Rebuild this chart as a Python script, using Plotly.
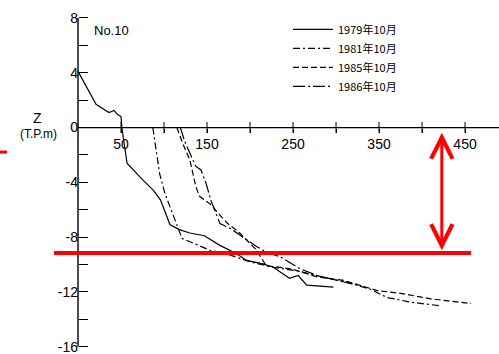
import plotly.graph_objects as go

# ---- data (distance from baseline [m], elevation Z [T.P.m]) ----
series_names = ["1979年10月", "1981年10月", "1985年10月", "1986年10月"]

x1979 = [0, 21, 36, 42, 46, 50, 51, 53, 57, 75, 88, 96, 107, 118, 130, 147, 165, 184, 196, 215, 227, 246, 256, 266, 297]
z1979 = [4.1, 1.7, 1.1, 1.25, 0.95, 0.8, 0.0, -1.0, -2.6, -3.8, -4.6, -5.3, -7.1, -7.45, -7.7, -7.9, -8.6, -9.2, -9.7, -9.95, -10.2, -11.0, -10.8, -11.5, -11.65]

x1981 = [87, 91, 95, 101, 108, 116, 121, 135, 153, 172, 200, 227, 258, 290, 313, 340, 359, 387, 420]
z1981 = [0.0, -1.9, -3.4, -4.8, -6.0, -7.24, -8.1, -8.46, -8.95, -9.2, -9.8, -10.2, -10.5, -11.0, -11.3, -11.8, -12.4, -12.75, -13.0]

x1985 = [115, 122, 130, 137, 141, 155, 165, 174, 188, 207, 219, 235, 250, 278, 309, 348, 375, 410, 457]
z1985 = [0.0, -1.2, -2.35, -4.3, -5.0, -5.65, -6.4, -7.0, -7.7, -8.9, -10.1, -10.2, -10.35, -10.9, -11.16, -11.9, -12.1, -12.5, -12.85]

x1986 = [119, 124, 130, 137, 143, 149, 155, 160, 165, 178, 188, 208, 219, 235, 258, 278, 301, 326]
z1986 = [0.0, -1.0, -1.86, -2.84, -3.1, -4.1, -5.4, -6.2, -7.0, -7.4, -7.85, -8.7, -9.08, -9.44, -10.3, -10.8, -11.16, -11.5]

x_tickvals = [50, 100, 150, 200, 250, 300, 350, 400, 450]
x_ticktext = ["50", "", "150", "", "250", "", "350", "", "450"]
y_tickvals = [-16, -14, -12, -10, -8, -6, -4, -2, 0, 2, 4, 6, 8]
y_ticktext = ["-16", "", "-12", "", "-8", "", "-4", "", "0", "", "4", "", "8"]

# reference level and arrow (red overlay)
ref_level = -9.15
arrow_x = 423
arrow_top = -0.27
arrow_bottom = -8.95

X_RANGE = [-90.7, 489.5]
Y_RANGE = [-16.53, 9.31]

xs = [x1979, x1981, x1985, x1986]
zs = [z1979, z1981, z1985, z1986]
dashes = ["solid", "7px,3px,2px,3px", "6px,3px", "12px,3px,2px,3px"]

fig = go.Figure()
for name, x, z, d in zip(series_names, xs, zs, dashes):
    fig.add_trace(go.Scatter(
        x=x, y=z, mode="lines", name=name,
        line=dict(color="black", width=1.2, dash=d),
        hoverinfo="skip",
    ))

# crossing tick marks on the x axis
fig.add_trace(go.Scatter(
    x=x_tickvals, y=[0] * len(x_tickvals), mode="markers",
    marker=dict(symbol="line-ns", size=8, line=dict(color="black", width=1)),
    showlegend=False, hoverinfo="skip",
))

xpos = (0 - Y_RANGE[0]) / (Y_RANGE[1] - Y_RANGE[0])
ypos = (0 - X_RANGE[0]) / (X_RANGE[1] - X_RANGE[0])

fig.update_layout(
    width=499, height=354,
    margin=dict(l=0, r=0, t=0, b=0, pad=0, autoexpand=False),
    paper_bgcolor="white", plot_bgcolor="white",
    font=dict(family="Liberation Sans, Arial, sans-serif", color="black"),
    xaxis=dict(
        range=X_RANGE, anchor="free", position=xpos, automargin=False,
        showgrid=False, zeroline=False, showline=False,
        tickvals=x_tickvals, ticktext=x_ticktext,
        ticks="outside", ticklen=4, tickcolor="black", tickwidth=1,
        ticklabeloverflow="allow",
        tickfont=dict(size=14, family="Liberation Sans, Arial, sans-serif"),
    ),
    yaxis=dict(
        range=Y_RANGE, anchor="free", position=ypos, automargin=False,
        showgrid=False, zeroline=False, showline=False,
        tickvals=y_tickvals, ticktext=y_ticktext,
        ticks="inside", ticklen=9, tickcolor="black", tickwidth=1,
        ticklabeloverflow="allow",
        tickfont=dict(size=14, family="Liberation Sans, Arial, sans-serif"),
    ),
    legend=dict(
        x=288 / 499, y=0.958, xanchor="left", yanchor="top",
        bgcolor="rgba(0,0,0,0)", itemwidth=40,
        font=dict(size=11, family="Noto Sans CJK JP, sans-serif", color="black"),
    ),
    showlegend=True,
)

shapes = [
    # axis lines
    dict(type="line", xref="x", yref="y", x0=0, x1=X_RANGE[1], y0=0, y1=0,
         line=dict(color="black", width=1.2), layer="below"),
    dict(type="line", xref="x", yref="y", x0=0, x1=0, y0=-16, y1=8,
         line=dict(color="black", width=1.4), layer="below"),
    # red reference line
    dict(type="line", xref="x", yref="y", x0=-28, x1=457, y0=ref_level, y1=ref_level,
         line=dict(color="#ff0000", width=4), layer="above"),
    # small red mark at left edge
    dict(type="line", xref="x", yref="y", x0=X_RANGE[0], x1=-82.5, y0=-1.79, y1=-1.79,
         line=dict(color="#ff0000", width=3), layer="above"),
]
fig.update_layout(shapes=shapes)

fig.add_annotation(
    x=arrow_x, y=arrow_bottom, ax=arrow_x, ay=arrow_top,
    xref="x", yref="y", axref="x", ayref="y",
    text="", showarrow=True, arrowside="end+start",
    arrowhead=5, startarrowhead=5, arrowsize=1.4, startarrowsize=1.4,
    arrowwidth=3, arrowcolor="#ff0000", standoff=0, startstandoff=0,
)

fig.add_annotation(x=111 / 499, y=1 - 30 / 354, xref="paper", yref="paper",
                   xanchor="center", yanchor="middle",
                   text="No.10", showarrow=False,
                   font=dict(size=13, family="Liberation Sans, Arial, sans-serif"))
fig.add_annotation(x=37.5 / 499, y=1 - 118 / 354, xref="paper", yref="paper",
                   xanchor="center", yanchor="middle",
                   text="Z", showarrow=False,
                   font=dict(size=14, family="Liberation Sans, Arial, sans-serif"))
fig.add_annotation(x=38.5 / 499, y=1 - 134 / 354, xref="paper", yref="paper",
                   xanchor="center", yanchor="middle",
                   text="(T.P.m)", showarrow=False,
                   font=dict(size=12, family="Liberation Sans Narrow, Liberation Sans, Arial, sans-serif"))

fig.write_html("out.html", config={"displayModeBar": False},
               post_script="document.body.style.margin='0px';")
